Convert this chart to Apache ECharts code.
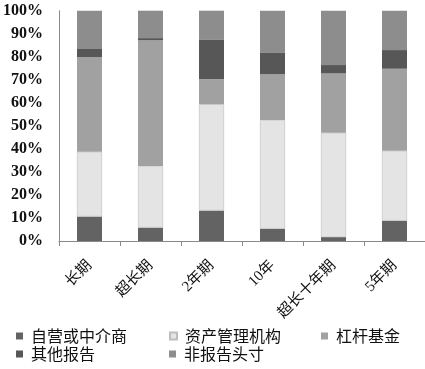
<!DOCTYPE html>
<html>
<head>
<meta charset="utf-8">
<script src="https://cdn.jsdelivr.net/npm/echarts@6/dist/echarts.min.js"></script>
<style>html,body{margin:0;padding:0;background:#fff;}#c{width:425px;height:369px;}</style>
</head>
<body>
<div id="c"></div>
<script>
var categories = ['长期', '超长期', '2年期', '10年', '超长十年期', '5年期'];
var dealer   = [10.6, 5.8, 13.2, 5.3, 1.7, 8.8];
var assetMgr = [28.2, 26.8, 46.2, 47.2, 45.3, 30.4];
var levFund  = [41.0, 54.5, 10.8, 20.0, 25.8, 35.6];
var otherRep = [3.6, 1.0, 17.1, 9.4, 3.6, 8.1];
var nonRep   = [16.6, 11.9, 12.7, 18.1, 23.6, 17.1];
var yTicks = [0, 10, 20, 30, 40, 50, 60, 70, 80, 90, 100];

var names = ['自营或中介商', '资产管理机构', '杠杆基金', '其他报告', '非报告头寸'];
var colors = ['#636363', '#e4e4e4', '#a1a1a1', '#575757', '#8d8d8d'];
var datasets = [dealer, assetMgr, levFund, otherRep, nonRep];
var legendLeft = [16, 169, 321, 16, 169];
var legendTop = [328, 328, 328, 346, 346];

var chart = echarts.init(document.getElementById('c'), null, {renderer: 'canvas'});

chart.setOption({
  animation: false,
  backgroundColor: '#fff',
  grid: {left: 59, top: 10.7, height: 230.3, width: 373, containLabel: false},
  legend: names.map(function (n, i) {
    return {
      left: legendLeft[i], top: legendTop[i], data: [n],
      itemWidth: 7, itemHeight: 7, icon: 'rect', selectedMode: false, padding: 0,
      textStyle: {fontFamily: '"Noto Sans CJK SC"', fontSize: 16, color: '#111', padding: [0, 0, 0, 3]}
    };
  }),
  xAxis: {
    type: 'category',
    data: categories,
    axisLine: {lineStyle: {color: '#8a8a8a', width: 1}},
    axisTick: {show: true, length: 5, lineStyle: {color: '#8a8a8a'}},
    axisLabel: {rotate: 45, margin: 22, fontSize: 15, color: '#111', fontFamily: '"Liberation Serif", "Noto Sans CJK SC"', interval: 0}
  },
  yAxis: {
    type: 'value',
    min: 0, max: 100, interval: 10,
    axisLine: {show: true, lineStyle: {color: '#8a8a8a', width: 1}},
    axisTick: {show: false},
    splitLine: {show: false},
    axisLabel: {
      margin: 16, fontSize: 16, fontWeight: 'bold', color: '#111',
      fontFamily: '"Liberation Serif"',
      formatter: function (v) { return yTicks.indexOf(v) >= 0 ? v + '%' : ''; }
    }
  },
  series: datasets.map(function (d, i) {
    return {
      name: names[i],
      type: 'bar',
      stack: 'total',
      barWidth: 25,
      data: d,
      itemStyle: {color: colors[i], borderColor: i === 1 ? '#bdbdbd' : colors[i], borderWidth: i === 1 ? 0.6 : 0}
    };
  })
});
</script>
</body>
</html>
